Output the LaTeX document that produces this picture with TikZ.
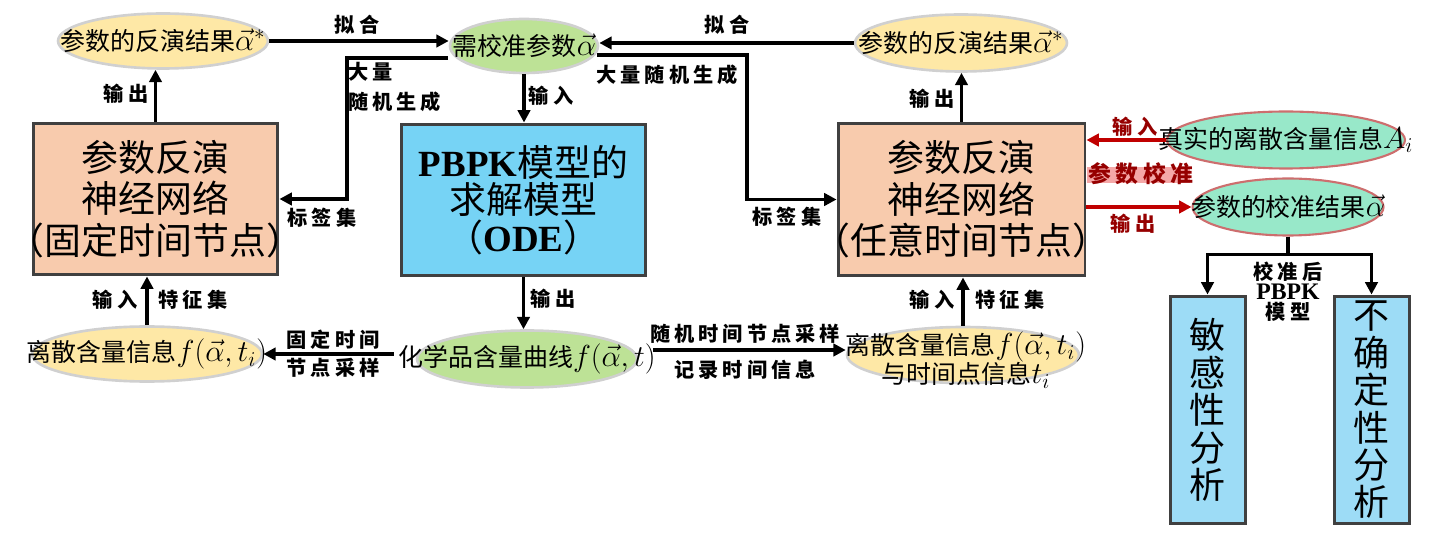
\documentclass[tikz,border=0pt]{standalone}
\usepackage{fontspec}
\setmainfont{Liberation Serif}
\newfontfamily\cjk{Noto Sans CJK SC}
\newfontfamily\cjksp[LetterSpace=20]{Noto Sans CJK SC}
\usetikzlibrary{arrows.meta,calc,shapes.geometric}
\def\mth#1{{\fontsize{17}{17}\selectfont$#1$}}
\definecolor{netfill}{HTML}{F8CBAD}
\definecolor{odefill}{HTML}{76D3F5}
\definecolor{anafill}{HTML}{9DDCF6}
\definecolor{resfill}{HTML}{FEE8A6}
\definecolor{parfill}{HTML}{BDE296}
\definecolor{calfill}{HTML}{98E8C9}
\definecolor{calline}{HTML}{CD6E6E}
\definecolor{boxline}{HTML}{404040}
\definecolor{softline}{HTML}{D0D0D0}
\definecolor{redline}{HTML}{C00000}
\definecolor{redtext}{HTML}{960000}
\definecolor{hlpink}{HTML}{F5A8A8}
\tikzset{
	arr/.style={line width=1.8pt, -{Triangle[length=7pt,width=7pt]}},
	redarr/.style={arr, draw=redline},
	lab/.style={inner sep=1pt, font=\cjksp\bfseries\fontsize{11.5}{17}\selectfont},
	redlab/.style={lab, text=redtext},
	oval/.style={ellipse, inner sep=0pt, line width=1.5pt, draw=softline, font=\cjk\fontsize{14.2}{16.5}\selectfont},
	ovaltext/.style={inner sep=0pt, font=\cjk\fontsize{14.2}{16.5}\selectfont},
	resoval/.style={oval, fill=resfill, minimum width=4.2cm, minimum height=1.1cm},
	paroval/.style={oval, fill=parfill, minimum width=2.96cm, minimum height=1.08cm},
	caloval/.style={oval, fill=calfill, draw=calline, line width=1.2pt, minimum width=4.76cm, minimum height=1.14cm},
	netbox/.style={rectangle, draw=boxline, line width=1.7pt, fill=netfill, minimum width=4.9cm, minimum height=3.04cm, inner sep=0pt, align=center, font=\cjk\fontsize{21}{23.6}\selectfont},
	odebox/.style={netbox, fill=odefill, font=\cjk\fontsize{21}{21.5}\selectfont},
	anabox/.style={netbox, fill=anafill, minimum width=1.5cm, minimum height=4.56cm, font=\cjk\fontsize{20.5}{21.3}\selectfont}
}

\begin{document}
\begin{tikzpicture}[x=0.02cm, y=-0.02cm]
	%%%%% START %%%%%
	\useasboundingbox (0,0) rectangle (1432,543);
	
	% top row
	\node[resoval] (resL) at (163,41) {\makebox[0pt]{参数的反演结果\mth{\vec{\alpha}^*}}};
	\node[paroval] (need) at (524,46) {\makebox[0pt]{需校准参数\mth{\vec{\alpha}}}};
	\node[resoval, minimum width=4.24cm, minimum height=1.14cm] (resR) at (961,43) {\makebox[0pt]{参数的反演结果\mth{\vec{\alpha}^*}}};
	
	% boxes
	\node[netbox] (netL) at (155.5,199) {参数反演\\神经网络\\\makebox[0pt]{（固定时间节点）}};
	\node[odebox] (ode) at (523.5,200) {{\rmfamily\bfseries PBPK}模型的\\求解模型\\（{\rmfamily\bfseries ODE}）};
	\node[netbox, minimum width=4.94cm, minimum height=3.06cm] (netR) at (961.5,199.5) {参数反演\\神经网络\\\makebox[0pt]{（任意时间节点）}};
	
	% calibration side
	\node[caloval] (real) at (1286,140) {\makebox[0pt]{真实的离散含量信息\mth{A_i}}};
	\node[caloval, minimum width=3.82cm] (calib) at (1288,207) {\makebox[0pt]{参数的校准结果\mth{\vec{\alpha}}}};
	\node[anabox] (sens) at (1207.5,410) {敏\\感\\性\\分\\析};
	\node[anabox] (unc) at (1371.5,410) {不\\确\\定\\性\\分\\析};
	
	% bottom row
	\node[resoval, minimum width=4.6cm] (discL) at (147,354) {\makebox[0pt]{离散含量信息\mth{f(\vec{\alpha},t_i)}}};
	\node[paroval, minimum width=4.4cm, minimum height=1.14cm] (curve) at (527,359) {\makebox[0pt]{化学品含量曲线\mth{f(\vec{\alpha},t)}}};
	\node[resoval, minimum width=4.64cm, minimum height=1.12cm] (discR) at (963,355) {};
	\node[ovaltext, align=center, font=\cjk\fontsize{14.2}{16.5}\selectfont] (discRtxt) at (966,360) {离散含量信息\mth{f(\vec{\alpha},t_i)}\\与时间点信息\mth{t_i}};
	
	% connectors
	\draw[arr] (resL.east) -- (resL.east -| need.west);
	\draw[arr] (resR.west) -- (resR.west -| need.east);
	\draw[arr] (need.south) -- (need.south |- ode.north);
	\coordinate (lsrc) at (448,58);
	\coordinate (rsrc) at (597,55);
	\draw[arr] (lsrc) -- ++(-101,0) |- (netL.east);
	\draw[arr] (rsrc) -- ++(150,0) |- (netR.west);
	\draw[arr] (netL.north) -- (netL.north |- resL.south);
	\draw[arr] (netR.north) -- (netR.north |- resR.south);
	\draw[arr] (discL.north) -- (discL.north |- netL.south);
	\draw[arr] (discR.north) -- (discR.north |- netR.south);
	\draw[arr] (ode.south) -- (ode.south |- curve.north);
	\draw[arr] ($(curve.west |- discL.east)+(-22,0)$) -- (discL.east);
	\draw[arr] ($(curve.east |- discR.west)+(15,-5)$) -- ($(discR.west)+(0,-5)$);
	\draw[redarr] (real.west) -- (real.west -| netR.east);
	\draw[redarr] (netR.east |- calib.west) -- (calib.west);
	\draw[arr] (calib.south) -- ++(0,18) -| (sens.north);
	\draw[arr] (calib.south) -- ++(0,18) -| (unc.north);
	
	% labels
	\node[lab] (fitL) at (357,25) {拟合};
	\node[lab] (fitR) at (727,25) {拟合};
	\node[lab, anchor=west, align=left] (genL) at (346,87) {大量\\随机生成};
	\node[lab] (setL) at (322,218) {标签集};
	\node[lab] (outL) at (126,94) {输出};
	\node[lab] (inC) at (551,96) {输入};
	\node[lab] (genR) at (667,75) {大量随机生成};
	\node[lab] (setR) at (787,217) {标签集};
	\node[lab] (outR) at (932,99) {输出};
	\node[lab] (inL) at (115,300) {输入};
	\node[lab] (featL) at (193,300) {特征集};
	\node[lab] (fixT) at (333,340) {固定时间};
	\node[lab] (fixS) at (333,368) {节点采样};
	\node[lab] (outC) at (553,299) {输出};
	\node[lab] (rndT) at (745,334) {随机时间节点采样};
	\node[lab] (recT) at (745,370) {记录时间信息};
	\node[lab] (inR) at (932,300) {输入};
	\node[lab] (featR) at (1010,300) {特征集};
	\node[redlab] (inReal) at (1135,127) {输入};
	\fill[hlpink] (1087,167) rectangle (1190,183);
	\node[redlab, font=\cjksp\bfseries\fontsize{13}{15}\selectfont] (calibT) at (1141,174) {参数校准};
	\node[redlab] (outCal) at (1133,224) {输出};
	\node[lab, align=center, font=\cjksp\bfseries\fontsize{11.5}{11.4}\selectfont] (afterT) at (1288,292) {校准后\\{\rmfamily\fontsize{13.5}{11.4}\selectfont PBPK}\\模型};
	
	%%%%% END %%%%%
\end{tikzpicture}
\end{document}
